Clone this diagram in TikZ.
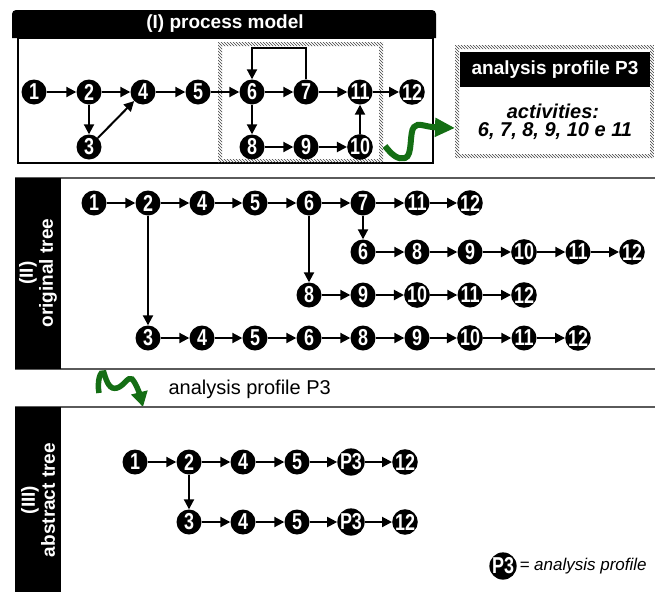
\documentclass[tikz,border=0pt]{standalone}
\usepackage{fontspec}
\setmainfont{Liberation Sans}
\newfontfamily\numfont[FakeStretch=0.78]{Liberation Sans}
\usepackage{tikz}
\usetikzlibrary{arrows.meta}
\usetikzlibrary{patterns}
\usetikzlibrary{calc}
\definecolor{arrowgreen}{RGB}{20,110,20}
\definecolor{framegray}{RGB}{90,90,90}

\begin{document}
\begin{tikzpicture}[x=1pt,y=-1pt,
  act/.style={circle,fill=black,text=white,minimum size=25pt,inner sep=0pt,font=\numfont\fontsize{23}{23}\selectfont\bfseries},
  link/.style={line width=2pt,-{Triangle[length=10pt,width=10pt]}},
  bar/.style={fill=black},
  frame/.style={draw=framegray,line width=1.4pt},
  title/.style={text=white,font=\fontsize{19}{19}\selectfont\bfseries},
  sidetitle/.style={text=white,rotate=90,align=center,font=\fontsize{19}{20}\selectfont\bfseries},
  hatch/.style={pattern=north west lines,pattern color=black!75,even odd rule},
  squiggle/.style={draw=arrowgreen,line width=6pt,-{Triangle[length=20pt,width=18pt]}}]
\useasboundingbox (0,0) rectangle (655,592);

% (I) process model
\fill[bar] (12,38) [rounded corners=4pt] -- (12,10) -- (436,10) [sharp corners] -- (436,38) -- cycle;
\draw[line width=1.3pt] (18,38) rectangle (433,163);
\fill[hatch] (218,42) rectangle (383,163) (222,46) rectangle (379,159);
\node (hdr1) at (225,24) [title] {(I) process model};
\coordinate (loop) at (0,48);

\node (p1) at (34,92) [act] {1};
\node (p2) at (89,92) [act] {2};
\node (p4) at (143,92) [act] {4};
\node (p5) at (198,92) [act] {5};
\node (p6) at (252,92) [act] {6};
\node (p7) at (306,92) [act] {7};
\node (p11) at (360,92) [act] {11};
\node (p12) at (412,92) [act] {12};
\node (p3) at (89,147) [act] {3};
\node (p8) at (252,147) [act] {8};
\node (p9) at (306,147) [act] {9};
\node (p10) at (360,147) [act] {10};

\draw[link] (p1) -- (p2);
\draw[link] (p2) -- (p4);
\draw[link] (p4) -- (p5);
\draw[link] (p5) -- (p6);
\draw[link] (p6) -- (p7);
\draw[link] (p7) -- (p11);
\draw[link] (p11) -- (p12);
\draw[link] (p2) -- (p3);
\draw[link] (p3) -- (p4);
\draw[link] (p6) -- (p8);
\draw[link] (p8) -- (p9);
\draw[link] (p9) -- (p10);
\draw[link] (p10) -- (p11);
\draw[link] (p7) -- (p7 |- loop) -| (p6);

% analysis profile P3
\fill[hatch] (455,45) rectangle (654,158) (459,49) rectangle (650,154);
\fill[bar] (460,52) rectangle (650,87);
\node (hdr2) at (555,70) [title] {analysis profile P3};
\node (acts) at (553,111) [font=\fontsize{20}{20}\selectfont\bfseries\itshape] {activities:};
\node (alist) at (555,131) [font=\fontsize{20}{20}\selectfont\bfseries\itshape] {6, 7, 8, 9, 10 e 11};
\coordinate (sq1) at (385,146);
\coordinate (pin) at (455,128);
\draw[squiggle] (sq1) .. controls (392,155) and (398,160) .. (405,158) .. controls (413,156) and (409,132) .. (414,127) .. controls (418,122) and (425,127) .. (pin);

% (II) original tree
\draw[frame] (15,178) -- (655,178);
\draw[frame] (15,369) -- (655,369);
\fill[bar] (15,178) rectangle (61,369);
\node (side2) at (38,273) [sidetitle] {(II)\\original tree};

\node (a1) at (94,203) [act] {1};
\node (a2) at (148,203) [act] {2};
\node (a4) at (202,203) [act] {4};
\node (a5) at (255,203) [act] {5};
\node (a6) at (309,203) [act] {6};
\node (a7) at (363,203) [act] {7};
\node (a11) at (417,203) [act] {11};
\node (a12) at (470,203) [act] {12};
\node (b6) at (363,252) [act] {6};
\node (b8) at (417,252) [act] {8};
\node (b9) at (470,252) [act] {9};
\node (b10) at (524,252) [act] {10};
\node (b11) at (578,252) [act] {11};
\node (b12) at (632,252) [act] {12};
\node (c8) at (309,295) [act] {8};
\node (c9) at (363,295) [act] {9};
\node (c10) at (417,295) [act] {10};
\node (c11) at (470,295) [act] {11};
\node (c12) at (524,295) [act] {12};
\node (d3) at (148,338) [act] {3};
\node (d4) at (202,338) [act] {4};
\node (d5) at (255,338) [act] {5};
\node (d6) at (309,338) [act] {6};
\node (d8) at (363,338) [act] {8};
\node (d9) at (417,338) [act] {9};
\node (d10) at (470,338) [act] {10};
\node (d11) at (524,338) [act] {11};
\node (d12) at (578,338) [act] {12};

\draw[link] (a1) -- (a2);
\draw[link] (a2) -- (a4);
\draw[link] (a4) -- (a5);
\draw[link] (a5) -- (a6);
\draw[link] (a6) -- (a7);
\draw[link] (a7) -- (a11);
\draw[link] (a11) -- (a12);
\draw[link] (a7) -- (b6);
\draw[link] (b6) -- (b8);
\draw[link] (b8) -- (b9);
\draw[link] (b9) -- (b10);
\draw[link] (b10) -- (b11);
\draw[link] (b11) -- (b12);
\draw[link] (a6) -- (c8);
\draw[link] (c8) -- (c9);
\draw[link] (c9) -- (c10);
\draw[link] (c10) -- (c11);
\draw[link] (c11) -- (c12);
\draw[link] (a2) -- (d3);
\draw[link] (d3) -- (d4);
\draw[link] (d4) -- (d5);
\draw[link] (d5) -- (d6);
\draw[link] (d6) -- (d8);
\draw[link] (d8) -- (d9);
\draw[link] (d9) -- (d10);
\draw[link] (d10) -- (d11);
\draw[link] (d11) -- (d12);

% analysis profile applied
\coordinate (sq2) at (99,393);
\coordinate (pout) at (143,407);
\draw[squiggle,line width=5.5pt,-{Triangle[length=15pt,width=16pt]}] (sq2) .. controls (97,382) and (100,370) .. (104,373) .. controls (107,383) and (110,390) .. (117,388) .. controls (124,386) and (128,376) .. (132,379) .. controls (136,383) and (140,395) .. (pout);
\node (mid) at (165,389) [anchor=west,font=\fontsize{20}{20}\selectfont] {analysis profile P3};

% (III) abstract tree
\draw[frame] (15,407) -- (655,407);
\fill[bar] (15,407) rectangle (61,592);
\node (side3) at (38,500) [sidetitle] {(III)\\abstract tree};

\node (e1) at (135,462) [act] {1};
\node (e2) at (189,462) [act] {2};
\node (e4) at (243,462) [act] {4};
\node (e5) at (297,462) [act] {5};
\node (ep) at (351,462) [act] {P3};
\node (e12) at (405,462) [act] {12};
\node (f3) at (189,522) [act] {3};
\node (f4) at (243,522) [act] {4};
\node (f5) at (297,522) [act] {5};
\node (fp) at (351,522) [act] {P3};
\node (f12) at (405,522) [act] {12};

\draw[link] (e1) -- (e2);
\draw[link] (e2) -- (e4);
\draw[link] (e4) -- (e5);
\draw[link] (e5) -- (ep);
\draw[link] (ep) -- (e12);
\draw[link] (e2) -- (f3);
\draw[link] (f3) -- (f4);
\draw[link] (f4) -- (f5);
\draw[link] (f5) -- (fp);
\draw[link] (fp) -- (f12);

% legend
\node (lp) at (503,566) [act] {P3};
\node (ltext) at (516,566) [anchor=west,font=\fontsize{17}{17}\selectfont\itshape] {= analysis profile};
\end{tikzpicture}
\end{document}
